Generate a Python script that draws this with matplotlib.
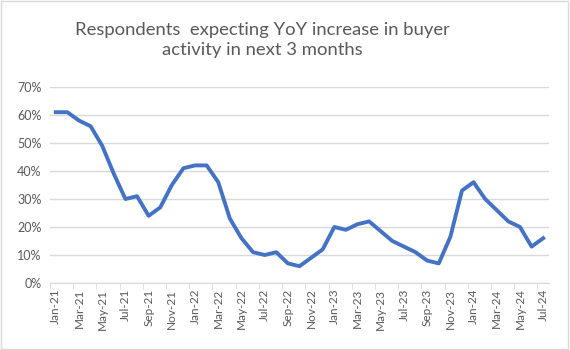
import matplotlib.pyplot as plt
from matplotlib.patches import Rectangle
from matplotlib.ticker import FixedLocator, PercentFormatter

# monthly share of respondents, Jan-21 .. Jul-24
months = ['Jan-21', 'Feb-21', 'Mar-21', 'Apr-21', 'May-21', 'Jun-21', 'Jul-21', 'Aug-21',
          'Sep-21', 'Oct-21', 'Nov-21', 'Dec-21', 'Jan-22', 'Feb-22', 'Mar-22', 'Apr-22',
          'May-22', 'Jun-22', 'Jul-22', 'Aug-22', 'Sep-22', 'Oct-22', 'Nov-22', 'Dec-22',
          'Jan-23', 'Feb-23', 'Mar-23', 'Apr-23', 'May-23', 'Jun-23', 'Jul-23', 'Aug-23',
          'Sep-23', 'Oct-23', 'Nov-23', 'Dec-23', 'Jan-24', 'Feb-24', 'Mar-24', 'Apr-24',
          'May-24', 'Jun-24', 'Jul-24']
share = [61, 61, 58, 56, 49, 39, 30, 31, 24, 27, 35, 41, 42, 42, 36, 23,
         16, 11, 10, 11, 7, 6, 9, 12, 20, 19, 21, 22, 18.5, 15, 13, 11,
         8, 7, 16.5, 33, 36, 30, 26, 22, 20, 13, 16]
y_ticks = [0, 10, 20, 30, 40, 50, 60, 70]

grey = '#595959'
grid = '#d9d9d9'

fig = plt.figure(figsize=(5.7, 3.5), dpi=100)
fig.patches.append(Rectangle((0.002, 0.003), 0.995, 0.993, transform=fig.transFigure,
                             fill=False, edgecolor=grid, linewidth=1))

ax = fig.add_axes([50 / 570, 67 / 350, 499 / 570, 196 / 350])
x = list(range(len(months)))
ax.plot(x, share, color='#4472C4', linewidth=2.8, solid_joinstyle='round', zorder=3)

ax.set_xlim(-0.5, len(months) - 0.5)
ax.set_ylim(0, 70)
ax.yaxis.set_major_locator(FixedLocator(y_ticks))
ax.yaxis.set_major_formatter(PercentFormatter(decimals=0))
ax.grid(axis='y', color=grid, linewidth=1)
ax.set_axisbelow(True)

ax.set_xticks(x[::2])
ax.set_xticklabels(months[::2], rotation=90)
ax.set_xticks([i - 0.5 for i in x[::2]], minor=True)

for s in ['top', 'right', 'left']:
    ax.spines[s].set_visible(False)
ax.spines['bottom'].set_color(grid)
ax.tick_params(axis='x', which='major', length=0, pad=4, labelsize=8.5, labelcolor=grey)
ax.tick_params(axis='x', which='minor', length=4, color=grid)
ax.tick_params(axis='y', length=0, pad=6, labelsize=9, labelcolor=grey)
for lbl in ax.get_xticklabels() + ax.get_yticklabels():
    lbl.set_family('Lato')

# title sits a little left of the figure centre in the original
fig.text(262 / 570, 0.886, 'Respondents  expecting YoY increase in buyer\nactivity in next 3 months',
         ha='center', va='center', fontsize=13.3, color=grey, family='Lato', linespacing=1.35)

fig.savefig('out.png', dpi=100)
